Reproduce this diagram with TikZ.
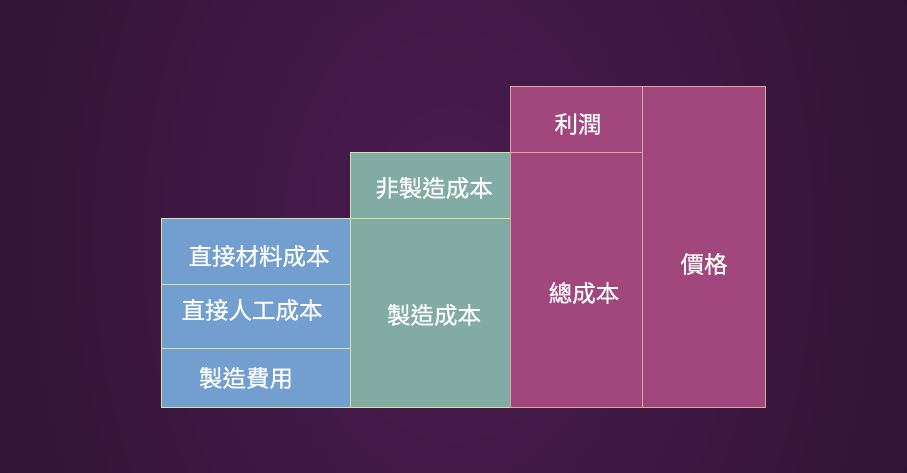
\documentclass[tikz,border=0pt]{standalone}
\usepackage{fontspec}
\newfontfamily\tcfont[FakeBold=0.5]{Noto Sans CJK TC}
\definecolor{bgin}{HTML}{4A1C50}
\definecolor{bgout}{HTML}{1A0B1C}
\definecolor{costblue}{HTML}{729FCF}
\definecolor{costteal}{HTML}{82ABA4}
\definecolor{costpink}{HTML}{A1477E}
\definecolor{edgegreen}{HTML}{D6E59C}
\definecolor{edgetan}{HTML}{D2AE96}
\tikzset{
  blk/.style     = {inner sep=0pt,anchor=north west,line width=1.2pt},
  blueblk/.style = {blk,fill=costblue,draw=edgegreen},
  tealblk/.style = {blk,fill=costteal,draw=edgegreen},
  pinkblk/.style = {blk,fill=costpink,draw=edgetan},
  lbl/.style     = {font=\tcfont\fontsize{23.5}{28}\selectfont,text=white}
}
\begin{document}
\begin{tikzpicture}[x=1pt,y=-1pt]
  \useasboundingbox (0,0) rectangle (907,473);
  \begin{scope}
    \clip (0,0) rectangle (907,473);
    \shade[inner color=bgin,outer color=bgout] (453,236) ellipse [x radius=960,y radius=1400];
  \end{scope}
  % cost blocks, left to right
  \node[blueblk,minimum width=189pt,minimum height=66pt]  (dmat)  at (161,218) {};
  \node[blueblk,minimum width=189pt,minimum height=64pt]  (dlab)  at (161,284) {};
  \node[blueblk,minimum width=189pt,minimum height=59pt]  (ovhd)  at (161,348) {};
  \node[tealblk,minimum width=160pt,minimum height=66pt]  (nonmf) at (350,152) {};
  \node[tealblk,minimum width=160pt,minimum height=189pt] (mfg)   at (350,218) {};
  \node[pinkblk,minimum width=132pt,minimum height=66pt]  (prof)  at (510,86)  {};
  \node[pinkblk,minimum width=132pt,minimum height=255pt] (total) at (510,152) {};
  \node[pinkblk,minimum width=123pt,minimum height=321pt] (price) at (642,86)  {};
  % labels
  \node[lbl] (dmattxt)  at (259,256) {直接材料成本};
  \node[lbl] (dlabtxt)  at (252,310) {直接人工成本};
  \node[lbl] (ovhdtxt)  at (246,378) {製造費用};
  \node[lbl] (nonmftxt) at (434,188) {非製造成本};
  \node[lbl] (mfgtxt)   at (434,315) {製造成本};
  \node[lbl] (proftxt)  at (578,124) {利潤};
  \node[lbl] (totaltxt) at (584,293) {總成本};
  \node[lbl] (pricetxt) at (704,264) {價格};
\end{tikzpicture}
\end{document}
